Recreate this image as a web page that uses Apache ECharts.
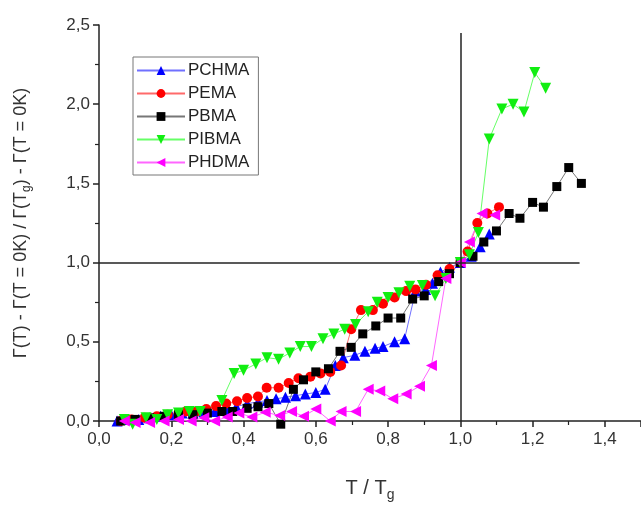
<!DOCTYPE html>
<html>
<head>
<meta charset="utf-8">
<script src="https://cdn.jsdelivr.net/npm/echarts@6/dist/echarts.min.js"></script>
<style>html,body{margin:0;padding:0;background:#fff}#c{width:641px;height:507px}</style>
</head>
<body>
<div id="c"></div>
<script>
// PCHMA
const pchmaX = [0.05,0.08,0.11,0.14,0.17,0.2,0.23,0.26,0.29,0.32,0.355,0.38,0.41,0.44,0.465,0.49,0.516,0.544,0.571,0.6,0.626,0.654,0.676,0.708,0.736,0.764,0.786,0.818,0.846,0.876,0.904,0.923,0.945,0.97,1.0,1.03,1.055,1.08];
const pchmaY = [0.0,0.01,0.01,0.02,0.03,0.04,0.05,0.05,0.06,0.06,0.07,0.09,0.11,0.12,0.13,0.14,0.15,0.16,0.17,0.18,0.2,0.35,0.40,0.415,0.44,0.46,0.47,0.5,0.52,0.82,0.83,0.87,0.94,0.97,1.0,1.04,1.1,1.18];
// PEMA
const pemaX = [0.06,0.09,0.126,0.16,0.19,0.22,0.24,0.27,0.297,0.324,0.352,0.382,0.41,0.44,0.464,0.497,0.525,0.552,0.585,0.613,0.64,0.67,0.698,0.725,0.758,0.786,0.818,0.85,0.876,0.905,0.937,0.97,1.0,1.02,1.047,1.075,1.107];
const pemaY = [0.0,0.01,0.02,0.03,0.04,0.05,0.06,0.06,0.075,0.094,0.11,0.125,0.145,0.155,0.21,0.21,0.24,0.27,0.28,0.30,0.31,0.35,0.58,0.70,0.70,0.74,0.78,0.82,0.83,0.86,0.92,0.96,1.0,1.07,1.25,1.31,1.35];
// PBMA
const pbmaX = [0.06,0.1,0.14,0.18,0.22,0.26,0.3,0.34,0.37,0.41,0.44,0.47,0.503,0.538,0.566,0.6,0.635,0.667,0.698,0.73,0.766,0.8,0.835,0.868,0.9,0.94,0.97,1.0,1.035,1.065,1.1,1.135,1.165,1.2,1.23,1.267,1.3,1.335];
const pbmaY = [0.0,0.01,0.02,0.03,0.04,0.04,0.05,0.06,0.06,0.08,0.09,0.11,-0.02,0.2,0.26,0.31,0.33,0.44,0.465,0.55,0.6,0.65,0.65,0.77,0.79,0.88,0.93,1.0,1.04,1.13,1.2,1.31,1.28,1.38,1.35,1.48,1.6,1.5];
// PIBMA
const pibmaX = [0.07,0.093,0.13,0.16,0.19,0.22,0.25,0.28,0.34,0.374,0.40,0.434,0.465,0.497,0.528,0.557,0.588,0.62,0.65,0.68,0.71,0.745,0.77,0.80,0.83,0.86,0.895,0.93,0.96,1.0,1.025,1.05,1.08,1.115,1.146,1.176,1.206,1.236];
const pibmaY = [0.01,-0.02,0.02,0.01,0.04,0.05,0.06,0.06,0.13,0.30,0.32,0.36,0.40,0.39,0.43,0.47,0.47,0.52,0.55,0.58,0.61,0.69,0.75,0.78,0.81,0.85,0.855,0.79,0.9,1.0,1.05,1.19,1.78,1.97,2.0,1.95,2.2,2.1];
// PHDMA
const phdmaX = [0.07,0.1,0.14,0.18,0.22,0.255,0.29,0.32,0.355,0.387,0.423,0.46,0.5,0.533,0.566,0.6,0.64,0.67,0.71,0.745,0.777,0.813,0.85,0.887,0.92,0.96,1.0,1.025,1.06,1.095];
const phdmaY = [0.0,-0.01,-0.01,0.0,0.01,0.0,0.02,0.0,0.025,0.05,0.025,0.055,0.035,0.06,0.03,0.075,0.0,0.06,0.06,0.2,0.19,0.14,0.17,0.22,0.35,0.9,1.0,1.13,1.31,1.3];

const xTicks = [0.0,0.2,0.4,0.6,0.8,1.0,1.2,1.4];
const yTicks = [0.0,0.5,1.0,1.5,2.0,2.5];

const zip = (xs, ys) => xs.map((x, i) => [x, ys[i]]);
const fmt = v => v.toFixed(1).replace('.', ',');

const defs = [
  {name:'PCHMA', x:pchmaX, y:pchmaY, color:'#0000ff', line:'#7070ff', symbol:'triangle', rot:0, size:11},
  {name:'PEMA',  x:pemaX,  y:pemaY,  color:'#ff0000', line:'#ff6a6a', symbol:'circle', rot:0, size:10},
  {name:'PBMA',  x:pbmaX,  y:pbmaY,  color:'#000000', line:'#777777', symbol:'rect', rot:0, size:9},
  {name:'PIBMA', x:pibmaX, y:pibmaY, color:'#11ee11', line:'#66ff66', symbol:'triangle', rot:180, size:11},
  {name:'PHDMA', x:phdmaX, y:phdmaY, color:'#ff00ff', line:'#ff66ff', symbol:'triangle', rot:90, size:11}
];

const series = defs.map(d => ({
  name: d.name, type: 'line', data: zip(d.x, d.y),
  symbol: d.symbol, symbolRotate: d.rot, symbolSize: d.size,
  showAllSymbol: true, clip: false, animation: false,
  itemStyle: {color: d.color},
  lineStyle: {color: d.line, width: 1}
}));

series.push({
  name: 'ref', type: 'line', data: [], animation: false, silent: true,
  markLine: {
    silent: true, symbol: 'none', animation: false,
    label: {show: false},
    lineStyle: {color: '#222', width: 1.5, type: 'solid'},
    data: [
      [{coord: [0, 1.0]}, {coord: [1.33, 1.0]}],
      [{coord: [1.0, 0]}, {coord: [1.0, 2.45]}]
    ]
  }
});

const font = 'Liberation Sans, Arial';
const chart = echarts.init(document.getElementById('c'), null, {renderer: 'canvas'});
chart.setOption({
  animation: false,
  backgroundColor: '#fff',
  grid: {left: 99, top: 25, width: 546, height: 397, containLabel: false},
  legend: {
    data: defs.map(d => d.name),
    orient: 'vertical', left: 133, top: 57,
    borderColor: '#777', borderWidth: 1, padding: [5, 9, 4, 3],
    itemWidth: 48, itemHeight: 11, itemGap: 6,
    textStyle: {fontFamily: font, fontSize: 17, color: '#222', padding: [0, 0, 0, -2]}
  },
  xAxis: {
    type: 'value', min: 0, max: 1.5, interval: 0.2,
    name: 'T / T{sub|g}', nameLocation: 'middle', nameGap: 54,
    nameTextStyle: {fontFamily: font, fontSize: 20, color: '#333',
      rich: {sub: {fontSize: 14, verticalAlign: 'bottom', padding: [13, 0, 0, 0], fontFamily: font, color: '#333'}}},
    axisLine: {show: true, lineStyle: {color: '#222', width: 1.5}},
    axisTick: {show: true, inside: false, length: 6, lineStyle: {color: '#222', width: 1.5}},
    minorTick: {show: true, splitNumber: 2, length: 4, lineStyle: {color: '#222', width: 1.2}},
    axisLabel: {formatter: v => xTicks.some(t => Math.abs(t - v) < 1e-6) ? fmt(v) : '', showMaxLabel: false,
      fontFamily: font, fontSize: 17, color: '#333', margin: 10},
    splitLine: {show: false}
  },
  yAxis: {
    type: 'value', min: 0, max: 2.5, interval: 0.5,
    name: 'Γ(T) - Γ(T = 0K) / Γ(T{sub|g}) - Γ(T = 0K)', nameLocation: 'middle', nameGap: 66,
    nameTextStyle: {fontFamily: font, fontSize: 18, color: '#333',
      rich: {sub: {fontSize: 12, verticalAlign: 'bottom', padding: [11, 0, 0, 0], fontFamily: font, color: '#333'}}},
    axisLine: {show: true, lineStyle: {color: '#222', width: 1.5}},
    axisTick: {show: true, inside: false, length: 6, lineStyle: {color: '#222', width: 1.5}},
    minorTick: {show: true, splitNumber: 2, length: 4, lineStyle: {color: '#222', width: 1.2}},
    axisLabel: {formatter: v => yTicks.some(t => Math.abs(t - v) < 1e-6) ? fmt(v) : '',
      fontFamily: font, fontSize: 17, color: '#333', margin: 9},
    splitLine: {show: false}
  },
  series: series
});
</script>
</body>
</html>
